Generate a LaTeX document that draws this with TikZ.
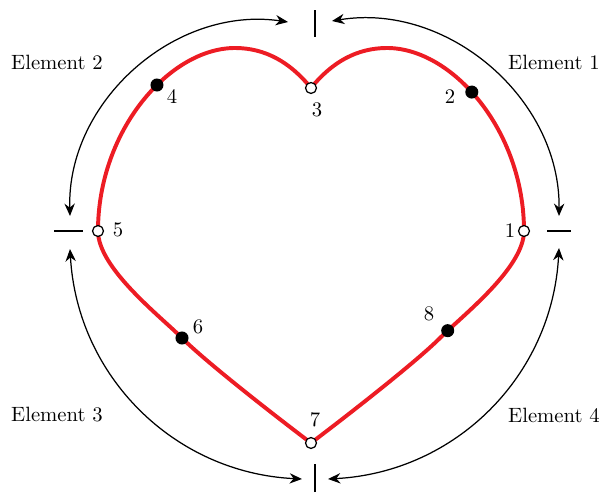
\documentclass[tikz,border=0pt]{standalone}
\usepackage{tikz}
\usepackage{xcolor}
\usetikzlibrary{arrows.meta}
\definecolor{heartred}{RGB}{237,28,36}

\begin{document}
\begin{tikzpicture}[x=0.017cm,y=0.017cm,
  full/.style={circle,fill=black,inner sep=0pt,minimum size=6.3pt},
  hollow/.style={circle,draw=black,fill=white,line width=0.6pt,inner sep=0pt,minimum size=5.3pt},
  span/.style={{Stealth[length=6pt,width=5pt]}-{Stealth[length=6pt,width=5pt]},line width=0.6pt},
  stub/.style={line width=0.6pt}]
\useasboundingbox (0,0) rectangle (604,495);
% heart
\draw[heartred,line width=1.9pt]
  (311,407) coordinate (p3)
  .. controls (290,433) and (265,447) .. (235,447)
  .. controls (170,447) and (98,365) .. (98,264) coordinate[pos=0.41] (p4) coordinate (p5)
  .. controls (98,227) and (160,179) .. (182,157) coordinate (p6)
  .. controls (205,134) and (270,83) .. (311,52) coordinate (p7)
  .. controls (352,83) and (417,134) .. (440,157)
  .. controls (462,179) and (524,227) .. (524,264) coordinate[pos=0.1] (p8) coordinate (p1)
  .. controls (524,365) and (452,447) .. (387,447) coordinate[pos=0.55] (p2)
  .. controls (357,447) and (332,433) .. (311,407);
\foreach \p in {p1,p3,p5,p7} \node[hollow] (d\p) at (\p) {};
\foreach \p in {p2,p4,p6,p8} \node[full] (d\p) at (\p) {};
% point numbers
\foreach \n/\x/\y in {1/510/264,2/450/398,3/317/385,4/172/398,5/118/265,6/198/168,7/315/75,8/429/181}
  \node (l\n) at (\x,\y) {\n};
% ticks
\draw[stub] (315,458) -- (315,485);
\draw[stub] (315,3) -- (315,31);
\draw[stub] (54,264) -- (83,264);
\draw[stub] (547,264) -- (571,264);
% elements
\coordinate (e1a) at (332,474);
\coordinate (e1b) at (559,279);
\coordinate (e2a) at (288,473);
\coordinate (e2b) at (70,279);
\coordinate (e3a) at (70,246);
\coordinate (e3b) at (302,16);
\coordinate (e4a) at (559,247);
\coordinate (e4b) at (328,16);
\draw[span] (e1b) to[bend right=50] (e1a);
\draw[span] (e2a) to[bend right=50] (e2b);
\draw[span] (e3a) to[bend right=42] (e3b);
\draw[span] (e4b) to[bend right=42] (e4a);
\node (el1) at (554,433) {Element 1};
\node (el2) at (57,433) {Element 2};
\node (el3) at (57,80) {Element 3};
\node (el4) at (554,80) {Element 4};
\end{tikzpicture}
\end{document}
